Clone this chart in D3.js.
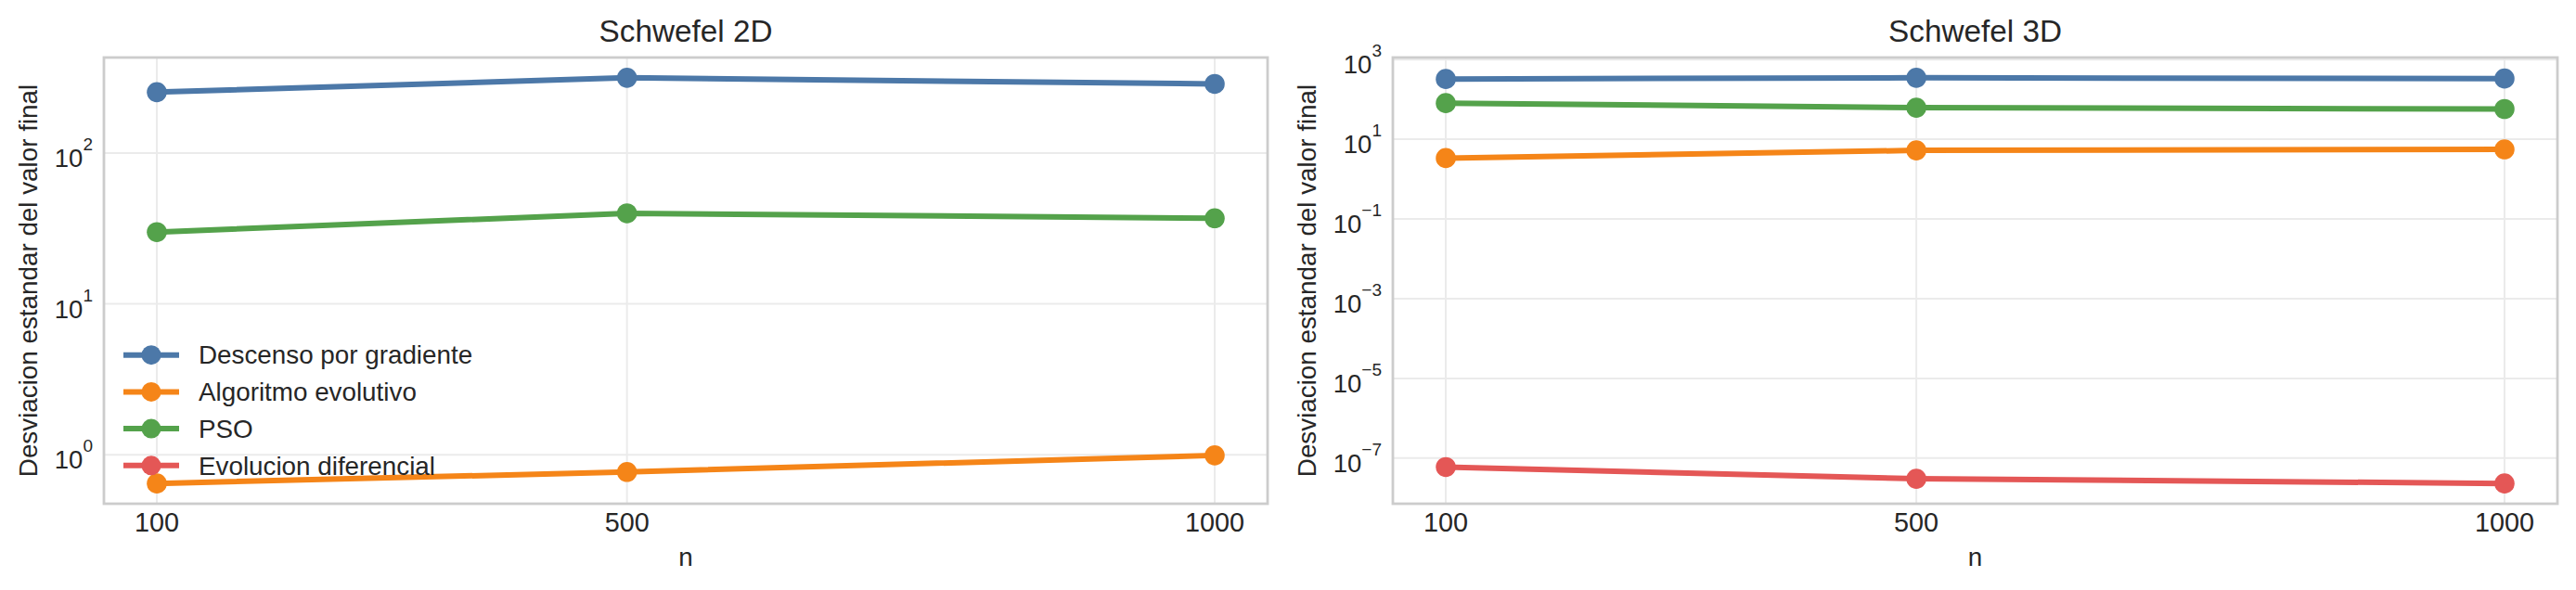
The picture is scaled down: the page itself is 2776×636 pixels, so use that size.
<!DOCTYPE html>
<html>
<head>
<meta charset="utf-8">
<title>Schwefel 2D / 3D</title>
<style>
  body { margin: 0; background: #fff; }
  text { font-family: "Liberation Sans", Arial, sans-serif; fill: #262626; }
</style>
</head>
<body>
<script src="https://cdn.jsdelivr.net/npm/d3@7"></script>
<script>
// datos
var nValues = [100, 500, 1000];
var seriesNames = ["Descenso por gradiente", "Algoritmo evolutivo", "PSO", "Evolucion diferencial"];
var seriesColors = ["#4c78a8", "#f58518", "#54a24b", "#e45756"];

var gradiente2D = [253, 315, 287];
var evolutivo2D = [0.645, 0.768, 0.99];
var pso2D = [29.9, 39.8, 36.9];
var diferencial2D = [null, null, null]; // no aparece en la escala log

var gradiente3D = [325, 348, 334];
var evolutivo3D = [3.37, 5.26, 5.56];
var pso3D = [80.7, 61.8, 57.4];
var diferencial3D = [5.98e-8, 3.04e-8, 2.32e-8];

var yTicks2D = [0, 1, 2];               // exponentes
var yTicks3D = [-7, -5, -3, -1, 1, 3];  // exponentes
var xTickLabels = ["100", "500", "1000"];

var W = 2776, H = 636;
var svg = d3.select("body").append("svg").attr("width", W).attr("height", H);

var panels = [
  { title: "Schwefel 2D", x: 112, y: 62, w: 1254, h: 481, labelX: 40,
    series: [gradiente2D, evolutivo2D, pso2D, diferencial2D], ticks: yTicks2D, legend: true },
  { title: "Schwefel 3D", x: 1501, y: 62, w: 1255, h: 481, labelX: 1418,
    series: [gradiente3D, evolutivo3D, pso3D, diferencial3D], ticks: yTicks3D, legend: false }
];

panels.forEach(drawPanel);

function drawPanel(p) {
  var g = svg.append("g");

  // rango log con margen del 5% (como matplotlib)
  var all = [];
  p.series.forEach(function(s){ s.forEach(function(v){ if (v != null) all.push(Math.log10(v)); }); });
  var lo = d3.min(all), hi = d3.max(all), m = (hi - lo) * 0.05;

  var xScale = d3.scaleLinear()
    .domain([100 - 45, 1000 + 45])
    .range([p.x, p.x + p.w]);
  var yScale = d3.scaleLog()
    .domain([Math.pow(10, lo - m), Math.pow(10, hi + m)])
    .range([p.y + p.h, p.y]);

  // rejilla
  g.append("g").selectAll("line").data(p.ticks).enter().append("line")
    .attr("x1", p.x).attr("x2", p.x + p.w)
    .attr("y1", function(d){ return yScale(Math.pow(10, d)); })
    .attr("y2", function(d){ return yScale(Math.pow(10, d)); })
    .attr("stroke", "#ebebeb").attr("stroke-width", 2);
  g.append("g").selectAll("line").data(nValues).enter().append("line")
    .attr("x1", function(d){ return xScale(d); })
    .attr("x2", function(d){ return xScale(d); })
    .attr("y1", p.y).attr("y2", p.y + p.h)
    .attr("stroke", "#ebebeb").attr("stroke-width", 2);

  // marco
  g.append("rect")
    .attr("x", p.x).attr("y", p.y).attr("width", p.w).attr("height", p.h)
    .attr("fill", "none").attr("stroke", "#cccccc").attr("stroke-width", 2.8);

  // etiquetas eje y 10^k
  var yt = g.append("g").selectAll("text").data(p.ticks).enter().append("text")
    .attr("x", p.x - 12)
    .attr("y", function(d){ return yScale(Math.pow(10, d)) + 15; })
    .attr("text-anchor", "end")
    .attr("font-size", "27.5px");
  yt.append("tspan").text("10");
  yt.append("tspan").attr("dy", -18).attr("font-size", "19px")
    .text(function(d){ return d < 0 ? "\u2212" + (-d) : String(d); });

  // etiquetas eje x
  g.append("g").selectAll("text").data(nValues).enter().append("text")
    .attr("x", function(d){ return xScale(d); })
    .attr("y", 573.3)
    .attr("text-anchor", "middle")
    .attr("font-size", "28.8px")
    .text(function(d, i){ return xTickLabels[i]; });

  // lineas y puntos
  var line = d3.line()
    .defined(function(d){ return d != null; })
    .x(function(d, i){ return xScale(nValues[i]); })
    .y(function(d){ return yScale(d); });

  p.series.forEach(function(s, k) {
    g.append("path").datum(s)
      .attr("d", line)
      .attr("fill", "none")
      .attr("stroke", seriesColors[k])
      .attr("stroke-width", 6);
    g.append("g").selectAll("circle")
      .data(s.map(function(v, i){ return { v: v, i: i }; }).filter(function(d){ return d.v != null; }))
      .enter().append("circle")
      .attr("cx", function(d){ return xScale(nValues[d.i]); })
      .attr("cy", function(d){ return yScale(d.v); })
      .attr("r", 10.8)
      .attr("fill", seriesColors[k]);
  });

  // titulos
  g.append("text")
    .attr("x", p.x + p.w / 2).attr("y", 45)
    .attr("text-anchor", "middle").attr("font-size", "33.3px")
    .text(p.title);
  g.append("text")
    .attr("x", p.x + p.w / 2).attr("y", 610)
    .attr("text-anchor", "middle").attr("font-size", "27.8px")
    .text("n");
  g.append("text")
    .attr("transform", "translate(" + p.labelX + "," + (p.y + p.h / 2) + ") rotate(-90)")
    .attr("text-anchor", "middle").attr("font-size", "27.8px")
    .text("Desviacion estandar del valor final");

  // leyenda
  if (p.legend) {
    var lg = g.append("g").selectAll("g").data(seriesNames).enter().append("g")
      .attr("transform", function(d, i){ return "translate(133," + (382.7 + i * 39.7) + ")"; });
    lg.append("line").attr("x1", 0).attr("x2", 60)
      .attr("stroke", function(d, i){ return seriesColors[i]; })
      .attr("stroke-width", 6);
    lg.append("circle").attr("cx", 30).attr("r", 10.5)
      .attr("fill", function(d, i){ return seriesColors[i]; });
    lg.append("text").attr("x", 81).attr("y", 9.7)
      .attr("font-size", "27.8px")
      .text(function(d){ return d; });
  }
}
</script>
</body>
</html>
